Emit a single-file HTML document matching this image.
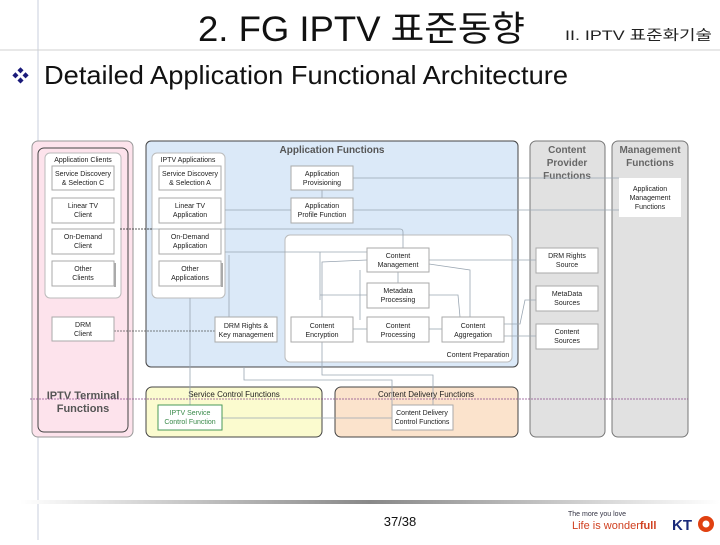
<!DOCTYPE html>
<html><head><meta charset="utf-8"><style>
body{margin:0;width:720px;height:540px;overflow:hidden;background:#fff}
svg text{font-family:"Liberation Sans","Noto Sans CJK KR",sans-serif}
</style></head><body>
<svg width="720" height="540" viewBox="0 0 720 540" xmlns="http://www.w3.org/2000/svg">
<defs>
<linearGradient id="fl" x1="0" x2="1"><stop offset="0" stop-color="#fff"/><stop offset="0.5" stop-color="#888"/><stop offset="1" stop-color="#fff"/></linearGradient>
</defs>
<line x1="38" y1="0" x2="38" y2="540" stroke="#c8cfdc" stroke-width="1"/>
<line x1="0" y1="50" x2="720" y2="50" stroke="#d0d0d0" stroke-width="1"/>
<text x="198" y="41" font-size="35" fill="#111" textLength="327" lengthAdjust="spacingAndGlyphs">2. FG IPTV 표준동향</text>
<text x="565" y="40" font-size="14" fill="#222" textLength="147" lengthAdjust="spacingAndGlyphs">II. IPTV 표준화기술</text>
<text x="12" y="82" font-size="17" fill="#1a1a7a">❖</text>
<text x="44" y="84" font-size="26" fill="#111" textLength="524" lengthAdjust="spacingAndGlyphs">Detailed Application Functional Architecture</text>

<g font-size="7" fill="#222" text-anchor="middle">
<rect x="32" y="141" width="101" height="296" rx="6" fill="#fde3ec" stroke="#999"/>
<rect x="38" y="148" width="90" height="284" rx="6" fill="none" stroke="#444"/>
<rect x="45" y="153" width="76" height="145" rx="5" fill="#fff" stroke="#bbb"/>
<text x="83" y="162">Application Clients</text>
<rect x="146" y="141" width="372" height="226" rx="5" fill="#dbe9f8" stroke="#444"/>
<text x="332" y="153" font-size="10" font-weight="bold" fill="#555">Application Functions</text>
<rect x="152" y="153" width="73" height="145" rx="5" fill="#fff" stroke="#bbb"/>
<text x="188" y="162">IPTV Applications</text>
<rect x="285" y="235" width="227" height="127" rx="5" fill="#fff" stroke="#bbb"/>
<text x="478" y="357">Content Preparation</text>
<rect x="530" y="141" width="75" height="296" rx="6" fill="#e1e1e1" stroke="#777"/>
<text x="567" y="153" font-size="10" font-weight="bold" fill="#666">Content</text>
<text x="567" y="166" font-size="10" font-weight="bold" fill="#666">Provider</text>
<text x="567" y="179" font-size="10" font-weight="bold" fill="#666">Functions</text>
<rect x="612" y="141" width="76" height="296" rx="6" fill="#e1e1e1" stroke="#777"/>
<text x="650" y="153" font-size="10" font-weight="bold" fill="#666">Management</text>
<text x="650" y="166" font-size="10" font-weight="bold" fill="#666">Functions</text>
<rect x="146" y="387" width="176" height="50" rx="6" fill="#fbfbcf" stroke="#444"/>
<text x="234" y="397" font-size="8">Service Control Functions</text>
<rect x="335" y="387" width="183" height="50" rx="6" fill="#fbe3cc" stroke="#444"/>
<text x="426" y="397" font-size="8">Content Delivery Functions</text>
<text x="83" y="399" font-size="11" font-weight="bold" fill="#555">IPTV Terminal</text>
<text x="83" y="412" font-size="11" font-weight="bold" fill="#555">Functions</text>

<g fill="none" stroke="#9aa6b2" stroke-width="0.8">
<line x1="353" y1="178" x2="619" y2="178"/>
<line x1="353" y1="210" x2="619" y2="210"/>
<line x1="146" y1="229" x2="400" y2="229"/><path d="M400 229 Q403 229 403 232 L403 248"/>
<line x1="225" y1="210" x2="291" y2="210"/>
<line x1="322" y1="190" x2="322" y2="198"/>
<line x1="225" y1="252" x2="367" y2="252"/>
<line x1="429" y1="260" x2="536" y2="260"/>
<line x1="320" y1="295" x2="367" y2="295"/>
<path d="M429 295 L458 295 L460 317"/>
<path d="M470 317 L470 270 L429 264"/>
<line x1="398" y1="272" x2="398" y2="283"/>
<line x1="353" y1="329" x2="367" y2="329"/>
<line x1="429" y1="329" x2="442" y2="329"/>
<line x1="504" y1="336" x2="536" y2="336"/>
<path d="M504 324 L520 324 L525 300 L536 300"/>
<path d="M322 317 L322 262 L367 260"/>
<path d="M360 270 L360 320"/>
<path d="M229 317 L229 255"/>
<path d="M244 367 L244 380 L392 380 L392 405"/>
<path d="M322 342 L322 375 L433 375 L433 405"/>
<path d="M320 252 L320 300"/>
<line x1="190" y1="298" x2="190" y2="405"/>
<line x1="222" y1="418" x2="392" y2="418"/>
</g>
<line x1="120" y1="229" x2="152" y2="229" stroke="#222" stroke-dasharray="2,1" stroke-width="0.8"/>
<line x1="114" y1="331" x2="215" y2="331" stroke="#555" stroke-dasharray="2,1" stroke-width="0.8"/>

<g stroke="#aaa" fill="#fff">
<rect x="52" y="166" width="62" height="24"/><rect x="52" y="198" width="62" height="25"/><rect x="52" y="229" width="62" height="25"/><rect x="52" y="261" width="62" height="25"/>
<rect x="52" y="317" width="62" height="24"/>
<rect x="159" y="166" width="62" height="24"/><rect x="159" y="198" width="62" height="25"/><rect x="159" y="229" width="62" height="25"/><rect x="159" y="261" width="62" height="25"/>
<rect x="291" y="166" width="62" height="24"/><rect x="291" y="198" width="62" height="25"/>
<rect x="367" y="248" width="62" height="24"/><rect x="367" y="283" width="62" height="25"/>
<rect x="215" y="317" width="62" height="25"/><rect x="291" y="317" width="62" height="25"/><rect x="367" y="317" width="62" height="25"/><rect x="442" y="317" width="62" height="25"/>
<rect x="536" y="248" width="62" height="25"/><rect x="536" y="286" width="62" height="25"/><rect x="536" y="324" width="62" height="25"/>
<rect x="619" y="178" width="62" height="39" stroke="none"/>
<rect x="392" y="405" width="61" height="25"/>
<rect x="158" y="405" width="64" height="25" stroke="#4a9a5a"/>
</g>
<g fill="#aaa"><rect x="114" y="263" width="2" height="24"/><rect x="221" y="263" width="2" height="24"/></g>
<text x="83" y="176">Service Discovery</text><text x="83" y="185">&amp; Selection C</text>
<text x="83" y="208">Linear TV</text><text x="83" y="217">Client</text>
<text x="83" y="239">On-Demand</text><text x="83" y="248">Client</text>
<text x="83" y="271">Other</text><text x="83" y="280">Clients</text>
<text x="83" y="327">DRM</text><text x="83" y="336">Client</text>
<text x="190" y="176">Service Discovery</text><text x="190" y="185">&amp; Selection A</text>
<text x="190" y="208">Linear TV</text><text x="190" y="217">Application</text>
<text x="190" y="239">On-Demand</text><text x="190" y="248">Application</text>
<text x="190" y="271">Other</text><text x="190" y="280">Applications</text>
<text x="322" y="176">Application</text><text x="322" y="185">Provisioning</text>
<text x="322" y="208">Application</text><text x="322" y="217">Profile Function</text>
<text x="398" y="258">Content</text><text x="398" y="267">Management</text>
<text x="398" y="293">Metadata</text><text x="398" y="302">Processing</text>
<text x="246" y="328">DRM Rights &amp;</text><text x="246" y="337">Key management</text>
<text x="322" y="328">Content</text><text x="322" y="337">Encryption</text>
<text x="398" y="328">Content</text><text x="398" y="337">Processing</text>
<text x="473" y="328">Content</text><text x="473" y="337">Aggregation</text>
<text x="567" y="258">DRM Rights</text><text x="567" y="267">Source</text>
<text x="567" y="296">MetaData</text><text x="567" y="305">Sources</text>
<text x="567" y="334">Content</text><text x="567" y="343">Sources</text>
<text x="650" y="191">Application</text><text x="650" y="200">Management</text><text x="650" y="209">Functions</text>
<text x="422" y="415">Content Delivery</text><text x="422" y="424">Control Functions</text>
<text x="190" y="415" fill="#3a8a4a">IPTV Service</text><text x="190" y="424" fill="#3a8a4a">Control Function</text>
</g>
<line x1="30" y1="399" x2="688" y2="399" stroke="#8a4a8a" stroke-dasharray="2,1" stroke-width="0.8"/>

<rect x="20" y="500" width="700" height="4" fill="url(#fl)"/>
<text x="400" y="526" font-size="13" text-anchor="middle" fill="#111">37/38</text>
<text x="568" y="516" font-size="7" fill="#334">The more you love</text>
<text x="572" y="529" font-size="11" fill="#d04020">Life is wonder<tspan font-weight="bold">full</tspan></text>
<text x="672" y="530" font-size="15" font-weight="bold" fill="#1a2a7a">KT</text>
<circle cx="706" cy="524" r="8" fill="#e04010"/><circle cx="706" cy="524" r="3.5" fill="#fff"/>
</svg>
</body></html>
